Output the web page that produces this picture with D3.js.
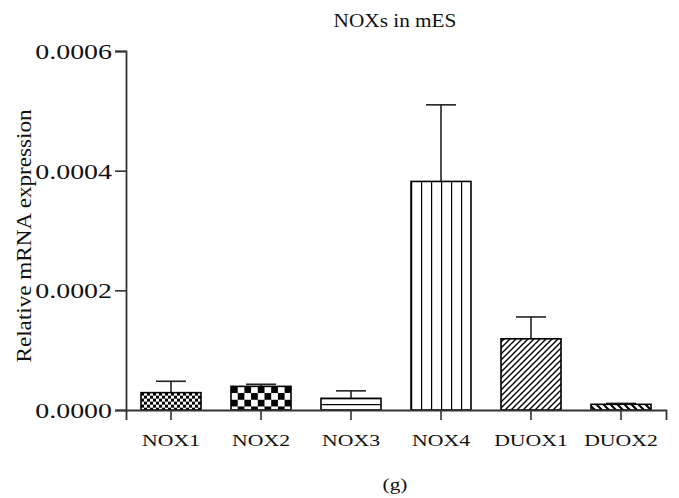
<!DOCTYPE html>
<html>
<head>
<meta charset="utf-8">
<script src="https://cdn.jsdelivr.net/npm/d3@7"></script>
<style>
  body { margin: 0; background: #fff; }
  text { font-family: "Liberation Serif", "Times New Roman", serif; fill: #111; }
</style>
</head>
<body>
<svg id="chart" width="679" height="498"></svg>
<script>
var categories = ["NOX1", "NOX2", "NOX3", "NOX4", "DUOX1", "DUOX2"];
var means = [0.000029, 0.0000395, 0.0000195, 0.000382, 0.000119, 0.0000095];
var errors = [0.000019, 0.0000035, 0.0000125, 0.000128, 0.0000365, 0.0000015];
var yTicks = [0, 0.0002, 0.0004, 0.0006];
var patternNames = ["checkSmall", "checkBig", "hlines", "vlines", "diagUp", "diagDown"];

var svg = d3.select("#chart"),
  plotLeft = 126, plotRight = 666, plotTop = 51, plotBottom = 410;

var x = d3.scaleBand().domain(categories).range([plotLeft, plotRight]).paddingInner(1 / 3).paddingOuter(1 / 6);
var y = d3.scaleLinear().domain([0, 0.0006]).range([plotBottom, plotTop]);

var defs = svg.append("defs");

// one pattern per bar, anchored to the bar's left edge
function makePattern(name, bx, by) {
  var p = defs.append("pattern").attr("id", name).attr("patternUnits", "userSpaceOnUse");
  if (name === "checkSmall" || name === "checkBig") {
    var c = name === "checkSmall" ? 3 : 6.7;
    p.attr("x", bx).attr("y", by).attr("width", c * 2).attr("height", c * 2);
    p.append("rect").attr("width", c * 2).attr("height", c * 2).attr("fill", "#fff");
    p.append("rect").attr("width", c).attr("height", c).attr("fill", "#000");
    p.append("rect").attr("x", c).attr("y", c).attr("width", c).attr("height", c).attr("fill", "#000");
  } else if (name === "hlines") {
    p.attr("x", bx).attr("y", plotBottom).attr("width", 10).attr("height", 6);
    p.append("rect").attr("width", 10).attr("height", 6).attr("fill", "#fff");
    p.append("line").attr("x1", 0).attr("x2", 10).attr("y1", 0).attr("y2", 0)
      .attr("stroke", "#000").attr("stroke-width", 2.5);
  } else if (name === "vlines") {
    p.attr("x", bx).attr("y", 0).attr("width", 10).attr("height", 10);
    p.append("rect").attr("width", 10).attr("height", 10).attr("fill", "#fff");
    p.append("line").attr("x1", 0).attr("x2", 0).attr("y1", 0).attr("y2", 10)
      .attr("stroke", "#000").attr("stroke-width", 2.4);
  } else if (name === "diagUp") {
    p.attr("x", bx).attr("y", 0).attr("width", 6).attr("height", 6);
    p.append("rect").attr("width", 6).attr("height", 6).attr("fill", "#fff");
    p.append("path").attr("d", "M-1,7 L7,-1 M-1,1 L1,-1 M5,7 L7,5")
      .attr("stroke", "#000").attr("stroke-width", 1.4);
  } else {
    p.attr("x", bx).attr("y", 0).attr("width", 7).attr("height", 7);
    p.append("rect").attr("width", 7).attr("height", 7).attr("fill", "#fff");
    p.append("path").attr("d", "M-1,-1 L8,8 M-1,6 L1,8 M6,-1 L8,1")
      .attr("stroke", "#000").attr("stroke-width", 2);
  }
}

categories.forEach(function (c, i) {
  makePattern(patternNames[i], x(c), y(means[i]));
});

// error bars (upper only)
var eb = svg.append("g").attr("stroke", "#222").attr("stroke-width", 1.6);
categories.forEach(function (c, i) {
  var cx = x(c) + x.bandwidth() / 2;
  eb.append("line").attr("x1", cx).attr("x2", cx).attr("y1", y(means[i])).attr("y2", y(means[i] + errors[i]));
  eb.append("line").attr("x1", cx - 15).attr("x2", cx + 15)
    .attr("y1", y(means[i] + errors[i])).attr("y2", y(means[i] + errors[i]));
});

// bars
svg.append("g").selectAll("rect").data(categories).join("rect")
  .attr("x", function (d) { return x(d); })
  .attr("y", function (d, i) { return y(means[i]); })
  .attr("width", x.bandwidth())
  .attr("height", function (d, i) { return plotBottom - y(means[i]); })
  .attr("fill", function (d, i) { return "url(#" + patternNames[i] + ")"; })
  .attr("stroke", "#000")
  .attr("stroke-width", 1.6);

// axes
var yAxis = svg.append("g").attr("transform", "translate(" + plotLeft + ",0)")
  .call(d3.axisLeft(y).tickValues(yTicks).tickSize(11).tickPadding(3).tickFormat(d3.format(".4f")));
var xAxis = svg.append("g").attr("transform", "translate(0," + plotBottom + ")")
  .call(d3.axisBottom(x).tickSize(10).tickPadding(6));

[yAxis, xAxis].forEach(function (a) {
  a.attr("font-family", null);
  a.select(".domain").attr("stroke", "#333").attr("stroke-width", 1.8);
  a.selectAll(".tick line").attr("stroke", "#333").attr("stroke-width", 1.6);
  a.selectAll("text").attr("fill", "#111");
});

// labels are horizontally wider than the stock serif, so stretch them
yAxis.selectAll(".tick text").each(function () {
  var t = d3.select(this);
  var tx = +t.attr("x");
  t.attr("x", null).attr("dy", null).attr("y", null)
    .attr("font-size", 21)
    .attr("transform", "translate(" + tx + ",7.5) scale(1.33,1)");
});
xAxis.selectAll(".tick text").each(function () {
  var t = d3.select(this);
  t.attr("y", null).attr("dy", null)
    .attr("font-size", 17)
    .attr("transform", "translate(0,36) scale(1.28,1)");
});

svg.append("text")
  .attr("transform", "translate(395,27) scale(1.15,1)")
  .attr("text-anchor", "middle").attr("font-size", 18.5)
  .text("NOXs in mES");

svg.append("text")
  .attr("transform", "translate(31,236) rotate(-90)")
  .attr("text-anchor", "middle").attr("font-size", 21)
  .attr("textLength", 253).attr("lengthAdjust", "spacingAndGlyphs")
  .text("Relative mRNA expression");

svg.append("text")
  .attr("transform", "translate(395,490) scale(1.25,1)")
  .attr("text-anchor", "middle").attr("font-size", 17)
  .text("(g)");
</script>
</body>
</html>
